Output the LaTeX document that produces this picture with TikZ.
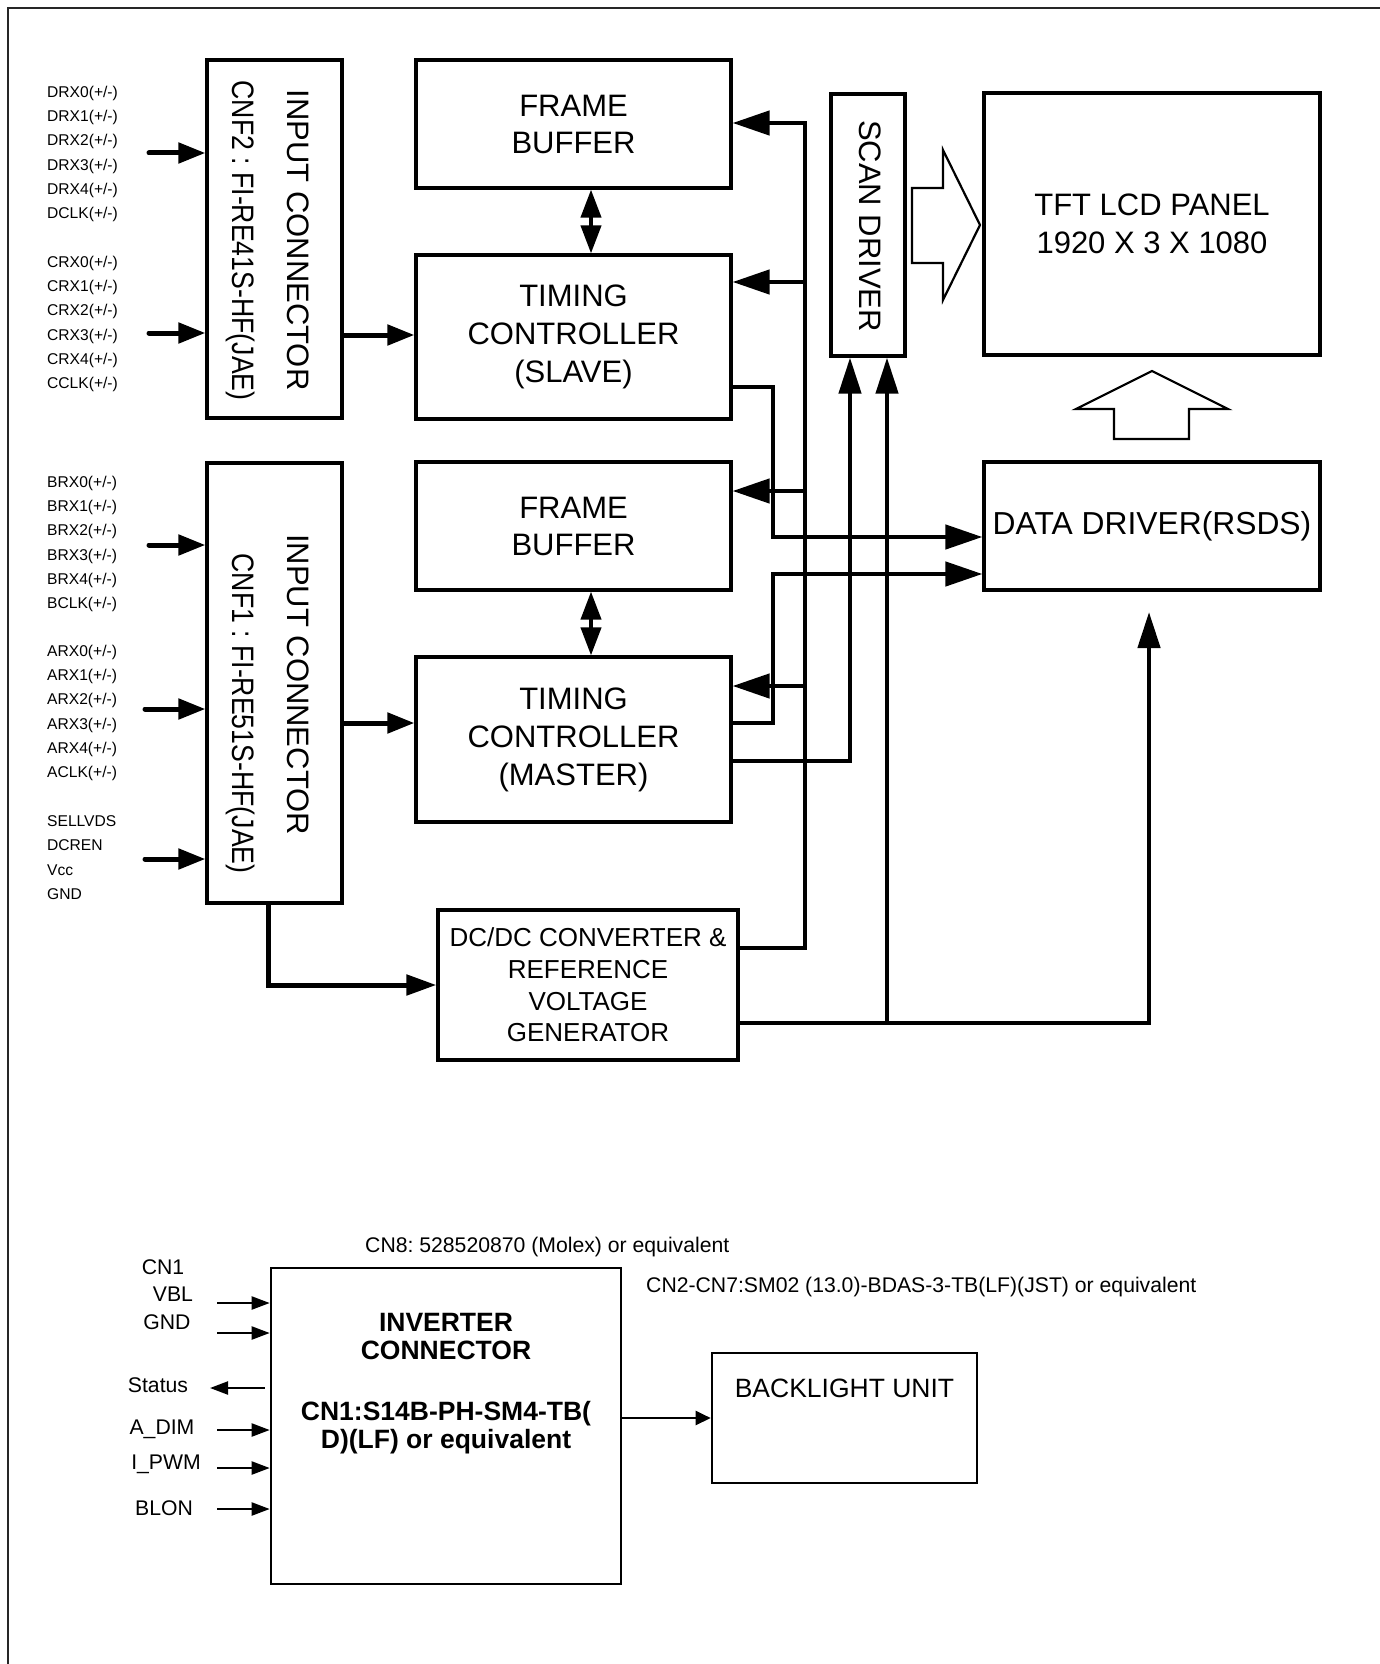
\documentclass[tikz,border=0pt]{standalone}
\usepackage{fontspec}
\setmainfont{Liberation Sans}
\newfontfamily\cnffont[FakeStretch=0.86]{Liberation Sans}
\usetikzlibrary{arrows.meta}
\frenchspacing
\tikzset{
  box/.style={draw=black, line width=3.2pt, inner sep=0pt, align=center, font=\fontsize{31}{38}\selectfont},
  rtext/.style={rotate=-90, anchor=base, inner sep=0pt, font=\fontsize{31}{39}\selectfont},
  lbl/.style={anchor=base west, inner sep=0pt, font=\fontsize{15.6}{18}\selectfont},
  inarrow/.style={line width=5pt, line cap=round, -{Triangle[length=27pt,width=20pt]}},
  busarrow/.style={line width=4.5pt, -{Triangle[length=37pt,width=24pt]}},
  uparrow/.style={line width=4.5pt, -{Triangle[length=36pt,width=22pt]}},
  duo/.style={line width=4pt, {Triangle[length=28pt,width=20pt]}-{Triangle[length=28pt,width=20pt]}},
  hollow/.style={draw=black, line width=2.2pt, line join=miter},
  sbox/.style={draw=black, line width=2.6pt, inner sep=0pt},
  stext/.style={inner sep=0pt, font=\fontsize{21.2}{25}\selectfont},
  sarrow/.style={line width=2.2pt, -{Triangle[length=18pt,width=13pt]}},
}
\begin{document}
\begin{tikzpicture}[x=1pt,y=-1pt]
\useasboundingbox (0,0) rectangle (1380,1664);
% frame
\draw[line width=2pt, black!85] (1380,8) -- (8,8) -- (8,1664);

% ---------- upper block diagram ----------
\node[box, minimum width=135pt, minimum height=358pt] (cnf2) at (274.5,239) {};
\node[box, minimum width=135pt, minimum height=440pt] (cnf1) at (274.5,683) {};
\node[rtext] (cnf2a) at (287,240) {INPUT CONNECTOR};
\node[rtext, font=\cnffont\fontsize{31}{39}\selectfont] (cnf2b) at (232,240.5) {CNF2 : FI-RE41S-HF(JAE)};
\node[rtext] (cnf1a) at (287,684.5) {INPUT CONNECTOR};
\node[rtext, font=\cnffont\fontsize{31}{39}\selectfont] (cnf1b) at (232,713.5) {CNF1 : FI-RE51S-HF(JAE)};

\node[box, minimum width=315pt, minimum height=128pt, font=\fontsize{31}{37}\selectfont] (fb1) at (573.5,124) {FRAME\\BUFFER};
\node[box, minimum width=315pt, minimum height=164pt] (tcs) at (573.5,337) {TIMING\\CONTROLLER\\(SLAVE)};
\node[box, minimum width=315pt, minimum height=128pt, font=\fontsize{31}{37}\selectfont] (fb2) at (573.5,526) {FRAME\\BUFFER};
\node[box, minimum width=315pt, minimum height=165pt] (tcm) at (573.5,739.5) {TIMING\\CONTROLLER\\(MASTER)};
\node[box, minimum width=300pt, minimum height=150pt, font=\fontsize{26}{31.7}\selectfont] (dcdc) at (588,985) {DC/DC CONVERTER \&\\REFERENCE\\VOLTAGE\\GENERATOR};
\node[box, minimum width=74pt, minimum height=262pt] (scan) at (868,225) {};
\node[rtext] (scant) at (859,226) {SCAN DRIVER};
\node[box, minimum width=336pt, minimum height=262pt, font=\fontsize{31}{38}\selectfont] (tft) at (1152,224) {TFT LCD PANEL\\1920 X 3 X 1080};
\node[box, minimum width=336pt, minimum height=128pt, font=\fontsize{31.8}{38}\selectfont] (dd) at (1152,526) {DATA DRIVER(RSDS)};

% hollow arrows
\draw[hollow] (912,188) -- (943,188) -- (943,150) -- (980,225) -- (943,300) -- (943,263) -- (912,263) -- cycle;
\draw[hollow] (1114,439) -- (1114,409) -- (1076,409) -- (1152,371) -- (1228,409) -- (1189,409) -- (1189,439) -- cycle;

% input labels
\foreach \t [count=\i from 0] in {DRX0(+/-),DRX1(+/-),DRX2(+/-),DRX3(+/-),DRX4(+/-),DCLK(+/-)}
  \node[lbl] (ld\i) at (47,{97.5+24.2*\i}) {\t};
\foreach \t [count=\i from 0] in {CRX0(+/-),CRX1(+/-),CRX2(+/-),CRX3(+/-),CRX4(+/-),CCLK(+/-)}
  \node[lbl] (lc\i) at (47,{267.5+24.2*\i}) {\t};
\foreach \t [count=\i from 0] in {BRX0(+/-),BRX1(+/-),BRX2(+/-),BRX3(+/-),BRX4(+/-),BCLK(+/-)}
  \node[lbl] (lb\i) at (47,{487.5+24.2*\i}) {\t};
\foreach \t [count=\i from 0] in {ARX0(+/-),ARX1(+/-),ARX2(+/-),ARX3(+/-),ARX4(+/-),ACLK(+/-)}
  \node[lbl] (la\i) at (47,{656.5+24.2*\i}) {\t};
\foreach \t [count=\i from 0] in {SELLVDS,DCREN,Vcc,GND}
  \node[lbl] (ls\i) at (47,{826.5+24.3*\i}) {\t};

% input arrows
\coordinate (iD) at (149,153);
\coordinate (iC) at (149,333);
\coordinate (iB) at (149,545);
\coordinate (iA) at (145,709);
\coordinate (iS) at (145,859);
\draw[inarrow] (iD) -- (iD -| cnf2.west);
\draw[inarrow] (iC) -- (iC -| cnf2.west);
\draw[inarrow] (iB) -- (iB -| cnf1.west);
\draw[inarrow] (iA) -- (iA -| cnf1.west);
\draw[inarrow] (iS) -- (iS -| cnf1.west);

% connector -> timing controllers
\draw[inarrow] (cnf2.east |- 0,335) -- (tcs.west |- 0,335);
\draw[inarrow] (cnf1.east |- 0,723) -- (tcm.west |- 0,723);

% frame buffer <-> timing controller
\draw[duo] (fb1.south -| 591,0) -- (tcs.north -| 591,0);
\draw[duo] (fb2.south -| 591,0) -- (tcm.north -| 591,0);

% power bus from DC/DC
\draw[busarrow] (dcdc.east |- 0,948) -| (805,123) -- (fb1.east |- 0,123);
\coordinate (j1) at (805,282);
\coordinate (j2) at (805,491);
\coordinate (j3) at (805,686);
\draw[busarrow] (j1) -- (j1 -| tcs.east);
\draw[busarrow] (j2) -- (j2 -| fb2.east);
\draw[busarrow] (j3) -- (j3 -| tcm.east);

% timing controllers -> data driver
\draw[busarrow] (tcs.east |- 0,387) -| (773,537) -- (dd.west |- 0,537);
\draw[busarrow] (tcm.east |- 0,723) -| (773,574) -- (dd.west |- 0,574);

% -> scan driver
\draw[uparrow] (tcm.east |- 0,761) -| (scan.south -| 850,0);
\coordinate (ddtip) at (1149,612);
\draw[uparrow] (dcdc.east |- 0,1023) -| (ddtip);
\coordinate (j4) at (887,1023);
\draw[uparrow] (j4) -- (j4 |- scan.south);

% connector -> DC/DC
\draw[line width=5pt, -{Triangle[length=30pt,width=20pt]}] (cnf1.south -| 268,0) |- (dcdc.west |- 0,985);

% ---------- lower part ----------
\node[stext, anchor=base west] (cn8) at (365,1252.5) {CN8: 528520870 (Molex) or equivalent};
\node[stext, anchor=base west] (cn27) at (646,1292.5) {CN2-CN7:SM02 (13.0)-BDAS-3-TB(LF)(JST) or equivalent};

\node[sbox, minimum width=350pt, minimum height=316pt] (inv) at (446,1426) {};
\node[inner sep=0pt, align=center, font=\bfseries\fontsize{26.5}{28}\selectfont] (invt) at (446,1336) {INVERTER\\CONNECTOR};
\node[inner sep=0pt, align=center, font=\bfseries\fontsize{26.5}{28}\selectfont] (invp) at (446,1428) {CN1:S14B-PH-SM4-TB(\\D)(LF) or equivalent};

\node[sbox, minimum width=265pt, minimum height=130pt] (bu) at (844.5,1418) {};
\node[inner sep=0pt, font=\fontsize{26.5}{30}\selectfont] (but) at (844.5,1388) {BACKLIGHT UNIT};
\draw[line width=2.2pt, -{Triangle[length=15pt,width=14pt]}] (inv.east |- 0,1418) -- (bu.west |- 0,1418);

\node[stext, anchor=base] (tcn1) at (163,1274.5) {CN1};
\node[stext, anchor=base] (tvbl) at (173,1301.5) {VBL};
\node[stext, anchor=base] (tgnd) at (167,1329.5) {GND};
\node[stext, anchor=base] (tsta) at (158,1392.5) {Status};
\node[stext, anchor=base] (tadim) at (162,1434.5) {A\_DIM};
\node[stext, anchor=base] (tipwm) at (166,1469.5) {I\_PWM};
\node[stext, anchor=base] (tblon) at (164,1515.5) {BLON};

\foreach \yy [count=\i] in {1303,1333,1430,1468,1509}{
  \coordinate (s\i) at (217,\yy);
  \draw[sarrow] (s\i) -- (s\i -| inv.west);
}
\coordinate (stat) at (210,1388);
\draw[sarrow, shorten <=5pt] (stat -| inv.west) -- (stat);
\end{tikzpicture}
\end{document}
